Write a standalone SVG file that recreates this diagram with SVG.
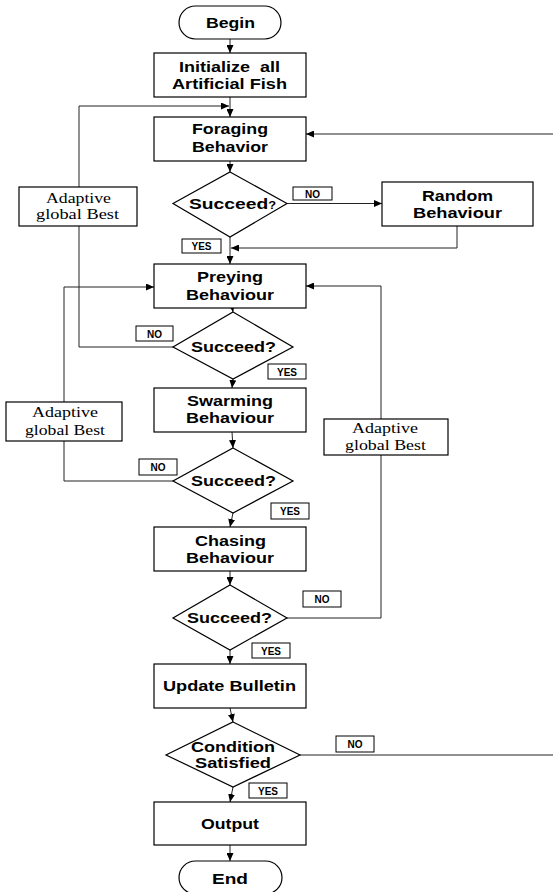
<svg xmlns="http://www.w3.org/2000/svg" width="553" height="892" viewBox="0 0 553 892">
<defs>
<marker id="ah" markerUnits="userSpaceOnUse" markerWidth="9" markerHeight="7" refX="8" refY="3.5" orient="auto">
<path d="M0,0 L8,3.5 L0,7 z" fill="#000"/>
</marker>
<style>
.box{fill:#fff;stroke:#000;stroke-width:1.2}
.lbl{fill:#fff;stroke:#000;stroke-width:1}
.t{font-family:"Liberation Sans",Arial,sans-serif;font-weight:bold;font-size:15px;fill:#000;white-space:pre}
.s{font-family:"Liberation Serif","Times New Roman",serif;font-size:14px;fill:#000}
.l{font-family:"Liberation Sans",Arial,sans-serif;font-weight:bold;font-size:10px;fill:#000;text-anchor:middle}
.c{fill:none;stroke:#222;stroke-width:1}
.a{marker-end:url(#ah)}
</style>
</defs>
<rect width="553" height="892" fill="#fff"/>

<g id="connectors">
<line class="c a" x1="230" y1="39" x2="230" y2="53"/>
<line class="c a" x1="230" y1="97" x2="230" y2="117"/>
<polyline class="c a" points="79,187 79,106 229,106"/>
<line class="c a" x1="553" y1="134" x2="306" y2="134"/>
<line class="c a" x1="230" y1="161" x2="230" y2="172"/>
<line class="c a" x1="287" y1="203.5" x2="382" y2="203.5"/>
<polyline class="c a" points="457,226 457,248 231,248"/>
<line class="c a" x1="230" y1="237" x2="230" y2="264"/>
<line class="c a" x1="232" y1="306" x2="233" y2="312"/>
<polyline class="c" points="173,347 79,347 79,226"/>
<line class="c a" x1="233" y1="379" x2="232" y2="388"/>
<line class="c a" x1="232" y1="432" x2="233" y2="448"/>
<polyline class="c" points="173,481 64,481 64,441"/>
<polyline class="c a" points="64,402 64,287 154,287"/>
<line class="c a" x1="233" y1="513" x2="230" y2="527"/>
<line class="c a" x1="230" y1="571" x2="230" y2="585"/>
<polyline class="c" points="287,618 381,618 381,455"/>
<polyline class="c a" points="381,419 381,286 306,286"/>
<line class="c a" x1="230" y1="650" x2="230" y2="664"/>
<line class="c a" x1="230" y1="708" x2="233" y2="722"/>
<line class="c" x1="300" y1="755" x2="553" y2="755"/>
<line class="c a" x1="233" y1="787" x2="230" y2="802"/>
<line class="c a" x1="230" y1="845" x2="230" y2="861"/>
</g>

<g id="begin">
<rect class="box" x="179" y="6" width="102" height="33" rx="16.5"/>
<text class="t" x="206" y="27.5" textLength="49" lengthAdjust="spacingAndGlyphs">Begin</text>
</g>
<g id="init">
<rect class="box" x="154" y="53" width="152" height="44"/>
<text class="t" x="179" y="72" textLength="101" lengthAdjust="spacingAndGlyphs">Initialize  all</text>
<text class="t" x="172" y="89" textLength="115" lengthAdjust="spacingAndGlyphs">Artificial Fish</text>
</g>
<g id="foraging">
<rect class="box" x="154" y="117" width="152" height="44"/>
<text class="t" x="192" y="133.5" textLength="76" lengthAdjust="spacingAndGlyphs">Foraging</text>
<text class="t" x="192" y="152" textLength="76" lengthAdjust="spacingAndGlyphs">Behavior</text>
</g>
<g id="succeed1">
<polygon class="box" points="230,172 287,203.5 230,237 173,203.5"/>
<text class="t" x="189" y="208.5" textLength="87" lengthAdjust="spacingAndGlyphs">Succeed<tspan font-size="10">?</tspan></text>
</g>
<g id="random">
<rect class="box" x="382" y="182" width="151" height="44"/>
<text class="t" x="422" y="201" textLength="71" lengthAdjust="spacingAndGlyphs">Random</text>
<text class="t" x="413" y="217.5" textLength="89" lengthAdjust="spacingAndGlyphs">Behaviour</text>
</g>
<g id="adaptive1">
<rect class="box" x="19" y="187" width="118" height="39"/>
<text class="s" x="46" y="203" textLength="65" lengthAdjust="spacingAndGlyphs">Adaptive</text>
<text class="s" x="36" y="219" textLength="83" lengthAdjust="spacingAndGlyphs">global Best</text>
</g>
<g id="preying">
<rect class="box" x="154" y="264" width="152" height="44"/>
<text class="t" x="197" y="282" textLength="66" lengthAdjust="spacingAndGlyphs">Preying</text>
<text class="t" x="186" y="299.5" textLength="88" lengthAdjust="spacingAndGlyphs">Behaviour</text>
</g>
<g id="succeed2">
<polygon class="box" points="233,312 293,347 233,379 173,347"/>
<text class="t" x="191" y="351.5" textLength="85" lengthAdjust="spacingAndGlyphs">Succeed?</text>
</g>
<g id="swarming">
<rect class="box" x="154" y="388" width="152" height="44"/>
<text class="t" x="187" y="406" textLength="86" lengthAdjust="spacingAndGlyphs">Swarming</text>
<text class="t" x="186" y="423" textLength="88" lengthAdjust="spacingAndGlyphs">Behaviour</text>
</g>
<g id="adaptive2">
<rect class="box" x="6" y="402" width="116" height="39"/>
<text class="s" x="32" y="417" textLength="66" lengthAdjust="spacingAndGlyphs">Adaptive</text>
<text class="s" x="25" y="434.5" textLength="80" lengthAdjust="spacingAndGlyphs">global Best</text>
</g>
<g id="succeed3">
<polygon class="box" points="233,448 293,481 233,513 173,481"/>
<text class="t" x="191" y="485.5" textLength="85" lengthAdjust="spacingAndGlyphs">Succeed?</text>
</g>
<g id="chasing">
<rect class="box" x="154" y="527" width="152" height="44"/>
<text class="t" x="195" y="546" textLength="71" lengthAdjust="spacingAndGlyphs">Chasing</text>
<text class="t" x="186" y="563" textLength="88" lengthAdjust="spacingAndGlyphs">Behaviour</text>
</g>
<g id="adaptive3">
<rect class="box" x="324" y="419" width="124" height="36"/>
<text class="s" x="352" y="433" textLength="66" lengthAdjust="spacingAndGlyphs">Adaptive</text>
<text class="s" x="345" y="449.5" textLength="81" lengthAdjust="spacingAndGlyphs">global Best</text>
</g>
<g id="succeed4">
<polygon class="box" points="230,585 287,618 230,650 173,618"/>
<text class="t" x="187" y="623" textLength="85" lengthAdjust="spacingAndGlyphs">Succeed?</text>
</g>
<g id="update">
<rect class="box" x="154" y="664" width="152" height="44"/>
<text class="t" x="163" y="691" textLength="133" lengthAdjust="spacingAndGlyphs">Update Bulletin</text>
</g>
<g id="condition">
<polygon class="box" points="233,722 300,755 233,787 166,755"/>
<text class="t" x="191" y="752" textLength="84" lengthAdjust="spacingAndGlyphs">Condition</text>
<text class="t" x="195" y="768" textLength="76" lengthAdjust="spacingAndGlyphs">Satisfied</text>
</g>
<g id="output">
<rect class="box" x="154" y="802" width="152" height="43"/>
<text class="t" x="201" y="828.5" textLength="58" lengthAdjust="spacingAndGlyphs">Output</text>
</g>
<g id="end">
<rect class="box" x="179" y="861" width="103" height="33" rx="16.5"/>
<text class="t" x="212" y="883.5" textLength="36" lengthAdjust="spacingAndGlyphs">End</text>
</g>

<g id="labels">
<rect class="lbl" x="293" y="187" width="39" height="13"/><text class="l" x="312.5" y="197.5">NO</text>
<rect class="lbl" x="182" y="239" width="39" height="14"/><text class="l" x="201.5" y="250">YES</text>
<rect class="lbl" x="136" y="326" width="37" height="15"/><text class="l" x="154.5" y="337.5">NO</text>
<rect class="lbl" x="268" y="364" width="38" height="15"/><text class="l" x="287" y="375.5">YES</text>
<rect class="lbl" x="139" y="459" width="38" height="16"/><text class="l" x="158" y="471">NO</text>
<rect class="lbl" x="271" y="503" width="38" height="16"/><text class="l" x="290" y="515">YES</text>
<rect class="lbl" x="303" y="591" width="38" height="16"/><text class="l" x="322" y="603">NO</text>
<rect class="lbl" x="252" y="643" width="38" height="15"/><text class="l" x="271" y="654.5">YES</text>
<rect class="lbl" x="336" y="736" width="38" height="16"/><text class="l" x="355" y="748">NO</text>
<rect class="lbl" x="249" y="783" width="38" height="15"/><text class="l" x="268" y="794.5">YES</text>
</g>
</svg>
